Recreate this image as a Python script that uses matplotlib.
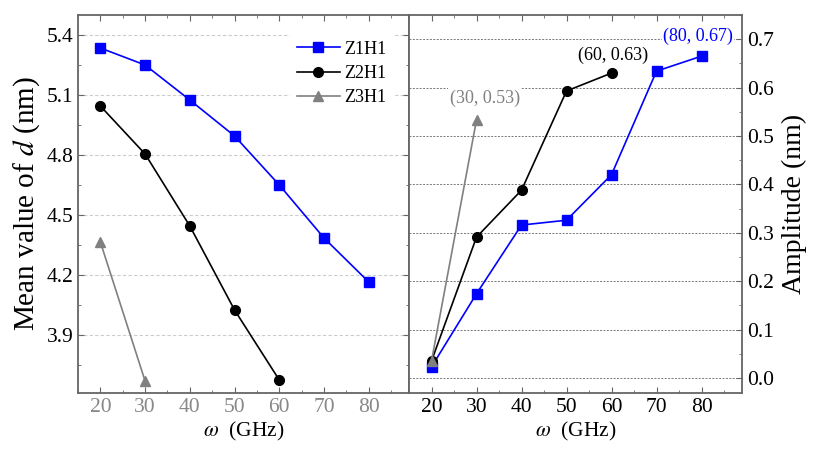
import numpy as np
import matplotlib
matplotlib.use("Agg")
import matplotlib.pyplot as plt
from matplotlib.ticker import MultipleLocator

plt.rcParams['font.family'] = ['Liberation Serif', 'DejaVu Serif']
plt.rcParams['mathtext.fontset'] = 'stix'

# data
w1 = [20, 30, 40, 50, 60, 70, 80]
w2 = [20, 30, 40, 50, 60]
w3 = [20, 30]
mean_z1 = [5.335, 5.25, 5.075, 4.895, 4.65, 4.385, 4.165]
mean_z2 = [5.045, 4.805, 4.445, 4.025, 3.675]
mean_z3 = [4.365, 3.67]
amp_z1 = [0.023, 0.174, 0.316, 0.326, 0.42, 0.634, 0.665]
amp_z2 = [0.035, 0.291, 0.388, 0.593, 0.63]
amp_z3 = [0.035, 0.533]
names = ["Z1H1", "Z2H1", "Z3H1"]
colors = ["#0000ff", "#000000", "#808080"]
markers = ["s", "o", "^"]
xticks = [20, 30, 40, 50, 60, 70, 80]

spine_c = "#666666"

fig = plt.figure(figsize=(8.13, 4.5), dpi=100)
ax1 = fig.add_axes([78/813, 57/450, 331/813, 378/450])
ax2 = fig.add_axes([409/813, 57/450, 333/813, 378/450])

for ax in (ax1, ax2):
    ax.set_xlim(15, 89)
    ax.set_xticks(xticks)
    ax.xaxis.set_minor_locator(MultipleLocator(5))
    for s in ax.spines.values():
        s.set_color(spine_c)
        s.set_linewidth(1.3)
    ax.set_xlabel(r"$\omega$  (GHz)", fontsize=15.5, labelpad=2)

# left panel
for x, y, n, c, m in zip([w1, w2, w3], [mean_z1, mean_z2, mean_z3], names, colors, markers):
    ax1.plot(x, y, color=c, marker=m, markersize=7, linewidth=1.2, label=n)
ax1.set_ylim(3.61, 5.5)
ax1.set_yticks([3.9, 4.2, 4.5, 4.8, 5.1, 5.4])
ax1.yaxis.set_minor_locator(MultipleLocator(0.15))
ax1.grid(axis='y', color="#cccccc", linestyle=(0, (3, 2)), linewidth=0.8)
ax1.set_axisbelow(True)
ax1.tick_params(which='both', direction='in', top=True, right=True, color=spine_c)
ax1.tick_params(which='major', length=4, labelsize=15.5)
ax1.tick_params(which='minor', length=2.5)
ax1.tick_params(axis='x', labelcolor="#888888")
ax1.set_ylabel("Mean value of $d$ (nm)", fontsize=21, labelpad=3)
ax1.set_yticklabels(["3.9", "4.2", "4.5", "4.8", "5.1", "5.4"])
leg = ax1.legend(loc='upper right', fontsize=13, frameon=True, fancybox=False,
                 edgecolor='none', facecolor='white', framealpha=1,
                 handlelength=2.4, handletextpad=0.2, labelspacing=0.4,
                 borderaxespad=0.6, bbox_to_anchor=(0.985, 0.98))

# right panel
for x, y, n, c, m in zip([w1, w2, w3], [amp_z1, amp_z2, amp_z3], names, colors, markers):
    ax2.plot(x, y, color=c, marker=m, markersize=7, linewidth=1.2, label=n)
ax2.set_ylim(-0.031, 0.75)
ax2.set_yticks(np.arange(0, 0.71, 0.1))
ax2.yaxis.set_minor_locator(MultipleLocator(0.05))
ax2.grid(axis='y', color="#777777", linestyle=(0, (2, 1.5)), linewidth=0.7)
ax2.set_axisbelow(True)
ax2.yaxis.tick_right()
ax2.yaxis.set_label_position('right')
ax2.tick_params(which='both', direction='in', top=True, left=False, right=True, color=spine_c)
ax2.tick_params(which='major', length=4, labelsize=15.5)
ax2.tick_params(which='minor', length=2.5)
ax2.set_yticklabels(["%.1f" % v for v in np.arange(0, 0.71, 0.1)])
ax2.set_ylabel("Amplitude (nm)", fontsize=20, labelpad=6)

box = dict(facecolor='white', edgecolor='none', pad=1)
ax2.text(31.8, 0.578, "(30, 0.53)", color="#808080", fontsize=13, ha='center', va='center', bbox=box)
ax2.text(60.4, 0.667, "(60, 0.63)", color="black", fontsize=13, ha='center', va='center', bbox=box)
ax2.text(79.2, 0.705, "(80, 0.67)", color="#0000ff", fontsize=13, ha='center', va='center', bbox=box)

fig.savefig("out.png", dpi=100)
